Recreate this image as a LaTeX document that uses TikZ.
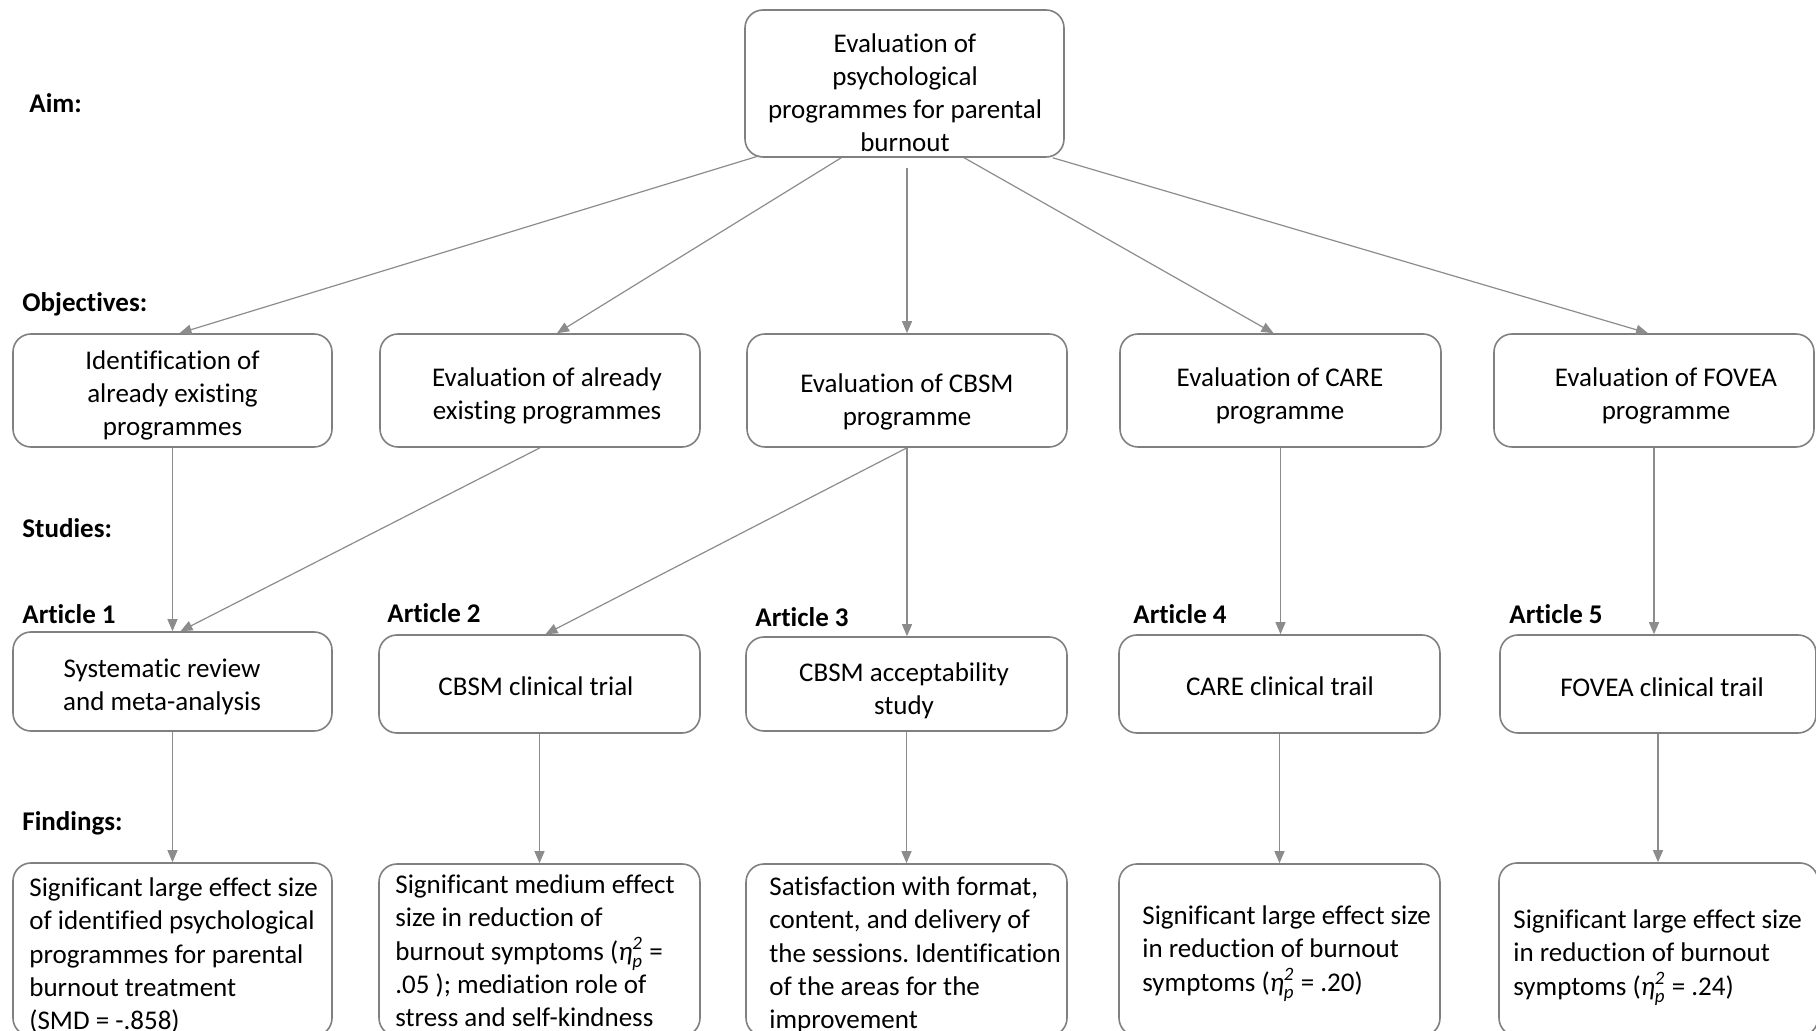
\documentclass[tikz,border=0pt]{standalone}
\usepackage{amsmath}
\usepackage{fontspec}
\setmainfont{Carlito}[Ligatures=NoCommon]
\usetikzlibrary{arrows.meta,calc}
\definecolor{boxline}{HTML}{808080}
\definecolor{arrowline}{HTML}{8C8C8C}
\newcommand{\etap}[1]{(\textit{η}$^{\textit{2}}_{\textit{p}}$ = #1}
\frenchspacing
\begin{document}
\begin{tikzpicture}[x=0.5pt,y=-0.5pt,
  box/.style={draw=boxline,line width=0.8pt,rounded corners=9pt,inner sep=0pt},
  txt/.style={font=\fontsize{13.5pt}{16.5pt}\selectfont,align=center,inner sep=0pt},
  findtxt/.style={font=\fontsize{13.5pt}{16.6pt}\selectfont,align=left,anchor=north west,inner sep=0pt},
  heading/.style={font=\fontsize{13.5pt}{16.8pt}\selectfont\bfseries,anchor=west,inner sep=0pt},
  link/.style={draw=arrowline,line width=0.6pt,-{Triangle[length=6pt,width=5pt]}}]
\useasboundingbox (0,0) rectangle (1816,1031);
\clip (0,0) rectangle (1816,1031);

% row headings
\node[heading] (hAim) at (29,103) {Aim:};
\node[heading] (hObj) at (22,304) {Objectives:};
\node[heading] (hStu) at (22,528) {Studies:};
\node[heading] (hFin) at (22,823) {Findings:};
\node[heading] (art1) at (22,614) {Article 1};
\node[heading] (art2) at (387,613) {Article 2};
\node[heading] (art3) at (755,617) {Article 3};
\node[heading] (art4) at (1133,614) {Article 4};
\node[heading] (art5) at (1509,614) {Article 5};

% aim
\node[box,minimum width=159.5pt,minimum height=73.5pt] (aim) at (904.5,83.5) {};
\node[txt] (aimT) at (905,93) {Evaluation of\\psychological\\programmes for parental\\burnout};

% objectives
\node[box,minimum width=159.5pt,minimum height=56.5pt] (o1) at (172.5,390.5) {};
\node[box,minimum width=160pt,minimum height=56.5pt] (o2) at (540,390.5) {};
\node[box,minimum width=160pt,minimum height=56.5pt] (o3) at (907,390.5) {};
\node[box,minimum width=160.5pt,minimum height=56.5pt] (o4) at (1280.5,390.5) {};
\node[box,minimum width=160pt,minimum height=56.5pt] (o5) at (1654,390.5) {};
\node[txt] (o1T) at (172.5,395) {Identification of\\already existing\\programmes};
\node[txt] (o2T) at (547,395.5) {Evaluation of already\\existing programmes};
\node[txt] (o3T) at (907,401.5) {Evaluation of CBSM\\programme};
\node[txt] (o4T) at (1280,395.5) {Evaluation of CARE\\programme};
\node[txt] (o5T) at (1666,395.5) {Evaluation of FOVEA\\programme};

% studies
\node[box,minimum width=159.5pt,minimum height=49.5pt] (s1) at (172.5,681.5) {};
\node[box,minimum width=160.5pt,minimum height=49pt] (s2) at (539.5,684) {};
\node[box,minimum width=160.5pt,minimum height=47pt] (s3) at (906.5,684) {};
\node[box,minimum width=160.5pt,minimum height=49pt] (s4) at (1279.5,684) {};
\node[box,minimum width=158pt,minimum height=49pt] (s5) at (1658,684) {};
\node[txt] (s1T) at (162,687) {Systematic review\\and meta-analysis};
\node[txt] (s2T) at (536,686.5) {CBSM clinical trial};
\node[txt] (s3T) at (904,690.5) {CBSM acceptability\\study};
\node[txt] (s4T) at (1280,686.5) {CARE clinical trail};
\node[txt] (s5T) at (1662,687) {FOVEA clinical trail};

% findings
\node[box,minimum width=159.5pt,minimum height=86.5pt] (f1) at (172.5,949.5) {};
\node[box,minimum width=160.5pt,minimum height=86pt] (f2) at (539.5,950) {};
\node[box,minimum width=160.5pt,minimum height=86pt] (f3) at (906.5,950) {};
\node[box,minimum width=160.5pt,minimum height=86pt] (f4) at (1279.5,950) {};
\node[box,minimum width=159.5pt,minimum height=86.5pt] (f5) at (1658.5,949.5) {};
\node[findtxt] (f1T) at (29,877.5) {Significant large effect size\\of identified psychological\\programmes for parental\\burnout treatment\\(SMD = -.858)};
\node[findtxt] (f2T) at (395,874.5) {Significant medium effect\\size in reduction of\\burnout symptoms \etap{}\\.05 ); mediation role of\\stress and self-kindness};
\node[findtxt] (f3T) at (769,876.5) {Satisfaction with format,\\content, and delivery of\\the sessions. Identification\\of the areas for the\\improvement};
\node[findtxt] (f4T) at (1142,905.5) {Significant large effect size\\in reduction of burnout\\symptoms \etap{.20})};
\node[findtxt] (f5T) at (1513,909.5) {Significant large effect size\\in reduction of burnout\\symptoms \etap{.24})};

% aim -> objectives
\draw[link] ([xshift=7.5pt,yshift=1pt]aim.south west) -- ([xshift=3.5pt]o1.north);
\draw[link] ([xshift=48.5pt]aim.south west) -- ([xshift=8.5pt]o2.north);
\draw[link] ($(aim.south -| o3.north)+(0,10)$) -- (o3.north);
\draw[link] ([xshift=110pt]aim.south west) -- ([xshift=-3.5pt]o4.north);
\draw[link] ([xshift=-6pt]aim.south east) -- ([xshift=-3pt]o5.north);

% objectives -> studies
\draw[link] (o1.south) -- (o1.south |- s1.north);
\draw[link] (o2.south) -- ([xshift=4pt]s1.north);
\draw[link] (o3.south) -- ([xshift=3pt]s2.north);
\draw[link] (o3.south) -- (o3.south |- s3.north);
\draw[link] (o4.south) -- (o4.south |- s4.north);
\draw[link] (o5.south) -- (o5.south |- s5.north);

% studies -> findings
\draw[link] (s1.south) -- (s1.south |- f1.north);
\draw[link] (s2.south) -- (s2.south |- f2.north);
\draw[link] (s3.south) -- (s3.south |- f3.north);
\draw[link] (s4.south) -- (s4.south |- f4.north);
\draw[link] (s5.south) -- (s5.south |- f5.north);
\end{tikzpicture}
\end{document}
